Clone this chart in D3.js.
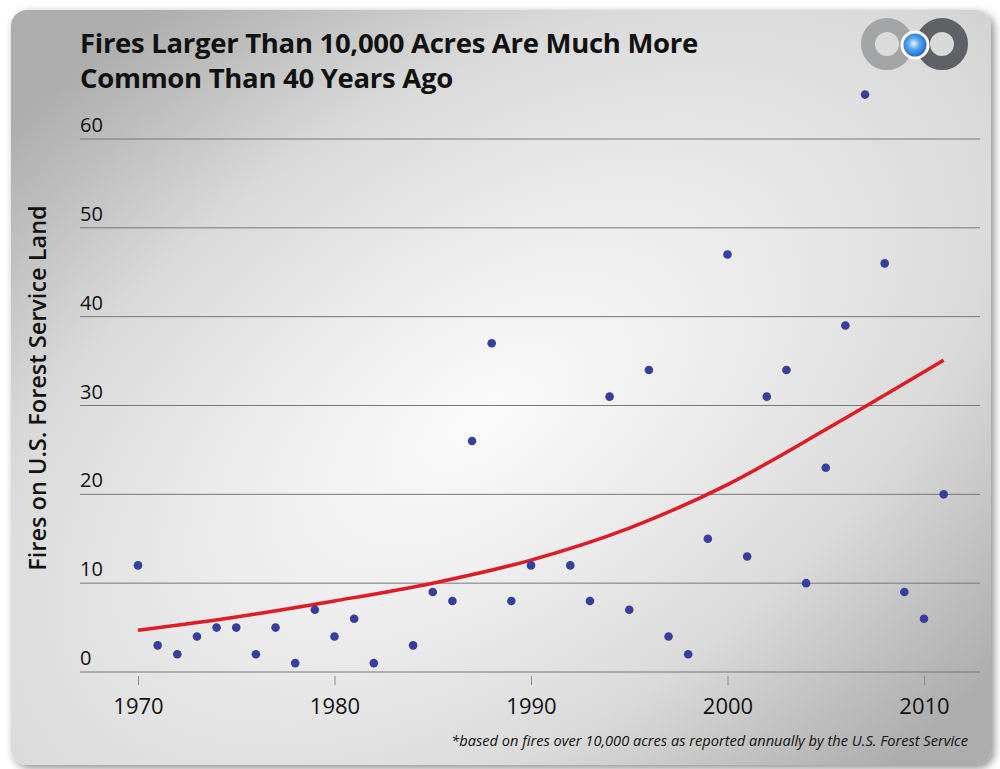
<!DOCTYPE html>
<html>
<head>
<meta charset="utf-8">
<script src="https://cdn.jsdelivr.net/npm/d3@7"></script>
<style>
  html, body { margin: 0; padding: 0; background: #fff; }
  svg { display: block; font-family: "Open Sans", "Noto Sans", sans-serif; }
</style>
</head>
<body>
<svg id="chart"></svg>
<script>
const years = [1970, 1971, 1972, 1973, 1974, 1975, 1976, 1977, 1978, 1979, 1980, 1981, 1982, 1984,
  1985, 1986, 1987, 1988, 1989, 1990, 1992, 1993, 1994, 1995, 1996, 1997, 1998, 1999, 2000,
  2001, 2002, 2003, 2004, 2005, 2006, 2007, 2008, 2009, 2010, 2011]
const fires = [12, 3, 2, 4, 5, 5, 2, 5, 1, 7, 4, 6, 1, 3,
  9, 8, 26, 37, 8, 12, 12, 8, 31, 7, 34, 4, 2, 15, 47,
  13, 31, 34, 10, 23, 39, 65, 46, 9, 6, 20]

// trend curve
const trendYears = [1970, 1975, 1980, 1985, 1990, 1995, 2000, 2005, 2011]
const trendValues = [4.7, 6.2, 8.0, 10.0, 12.6, 16.2, 21.1, 27.3, 35.1]

const yTicks = [0, 10, 20, 30, 40, 50, 60]
const xTicks = [1970, 1980, 1990, 2000, 2010]

const title = ['Fires Larger Than 10,000 Acres Are Much More', 'Common Than 40 Years Ago']
const yLabel = 'Fires on U.S. Forest Service Land'
const footnote = '*based on fires over 10,000 acres as reported annually by the U.S. Forest Service'

const width = 1000
const height = 769
const svg = d3.select('#chart').attr('width', width).attr('height', height)

const defs = svg.append('defs')
// tilted elliptical glow: light toward bottom-left / top-right, dark at the other corners
const bg = defs.append('radialGradient').attr('id', 'bg')
  .attr('gradientUnits', 'userSpaceOnUse')
  .attr('cx', 480).attr('cy', 420).attr('r', 700)
  .attr('gradientTransform', 'translate(480,420) rotate(-35) scale(1.4,0.75) translate(-480,-420)')
bg.append('stop').attr('offset', '0%').attr('stop-color', '#fbfbfb')
bg.append('stop').attr('offset', '30%').attr('stop-color', '#ececec')
bg.append('stop').attr('offset', '60%').attr('stop-color', '#dadada')
bg.append('stop').attr('offset', '85%').attr('stop-color', '#bdbdbd')
bg.append('stop').attr('offset', '100%').attr('stop-color', '#adadad')

const shadow = defs.append('filter').attr('id', 'shadow')
  .attr('x', -0.05).attr('y', -0.05).attr('width', 1.1).attr('height', 1.1)
shadow.append('feDropShadow').attr('dx', 3).attr('dy', 3).attr('stdDeviation', 4)
  .attr('flood-color', '#000').attr('flood-opacity', 0.45)

const ball = defs.append('radialGradient').attr('id', 'ball')
  .attr('cx', 0.45).attr('cy', 0.45).attr('r', 0.55)
ball.append('stop').attr('offset', '0%').attr('stop-color', '#e8f4ff')
ball.append('stop').attr('offset', '40%').attr('stop-color', '#5aa6ee')
ball.append('stop').attr('offset', '100%').attr('stop-color', '#1a63c4')

// card
svg.append('rect')
  .attr('x', 11).attr('y', 10).attr('width', 980).attr('height', 755)
  .attr('rx', 16)
  .attr('fill', 'url(#bg)')
  .attr('filter', 'url(#shadow)')

// logo
const logo = svg.append('g')
logo.append('circle').attr('cx', 887).attr('cy', 44).attr('r', 19)
  .attr('fill', 'none').attr('stroke', '#a2a4a6').attr('stroke-width', 14)
logo.append('circle').attr('cx', 942).attr('cy', 44).attr('r', 19)
  .attr('fill', 'none').attr('stroke', '#5e6266').attr('stroke-width', 14)
logo.append('circle').attr('cx', 915).attr('cy', 45).attr('r', 13)
  .attr('fill', 'url(#ball)').attr('stroke', '#fff').attr('stroke-width', 3)

// title
svg.append('text')
  .attr('x', 80).attr('y', 53)
  .attr('font-size', 27.5).attr('font-weight', 700).attr('fill', '#111')
  .attr('letter-spacing', -0.3)
  .selectAll('tspan').data(title).join('tspan')
  .attr('x', 80).attr('dy', (d, i) => i ? 35 : 0)
  .text(d => d)

const x = d3.scaleLinear().domain([1970, 2010]).range([138, 924])
const y = d3.scaleLinear().domain([0, 60]).range([672, 139])
const left = 80
const right = 980

// grid + y labels
const grid = svg.append('g')
grid.selectAll('line').data(yTicks).join('line')
  .attr('x1', left).attr('x2', right)
  .attr('y1', d => y(d)).attr('y2', d => y(d))
  .attr('stroke', '#777').attr('stroke-width', 1)
grid.selectAll('text').data(yTicks).join('text')
  .attr('x', left).attr('y', d => y(d) - 7)
  .attr('font-size', 20).attr('fill', '#111')
  .text(d => d)

// x axis, ticks below baseline
const xAxis = svg.append('g').attr('transform', `translate(0,${y(0) + 4})`)
  .call(d3.axisBottom(x).tickValues(xTicks).tickFormat(d3.format('d')).tickSize(9).tickPadding(13))
xAxis.select('.domain').remove()
xAxis.selectAll('line').attr('stroke', '#8a8a8a')
xAxis.selectAll('text').attr('font-size', 22).attr('fill', '#111')
  .attr('font-family', '"Open Sans", "Noto Sans", sans-serif')

// y axis title
svg.append('text')
  .attr('transform', `translate(46,388) rotate(-90)`)
  .attr('text-anchor', 'middle')
  .attr('font-size', 23.5).attr('font-weight', 600).attr('fill', '#111')
  .text(yLabel)

// trend line
const line = d3.line()
  .x(d => x(d[0]))
  .y(d => y(d[1]))
  .curve(d3.curveMonotoneX)
svg.append('path')
  .datum(d3.zip(trendYears, trendValues))
  .attr('d', line)
  .attr('fill', 'none').attr('stroke', '#e01b24').attr('stroke-width', 3.5)

// points
svg.append('g').selectAll('circle').data(d3.zip(years, fires)).join('circle')
  .attr('cx', d => x(d[0])).attr('cy', d => y(d[1]))
  .attr('r', 4.3)
  .attr('fill', '#373f9c')

// footnote
svg.append('text')
  .attr('x', 968).attr('y', 746)
  .attr('text-anchor', 'end')
  .attr('font-size', 14.6).attr('font-style', 'italic').attr('fill', '#111')
  .text(footnote)
</script>
</body>
</html>
